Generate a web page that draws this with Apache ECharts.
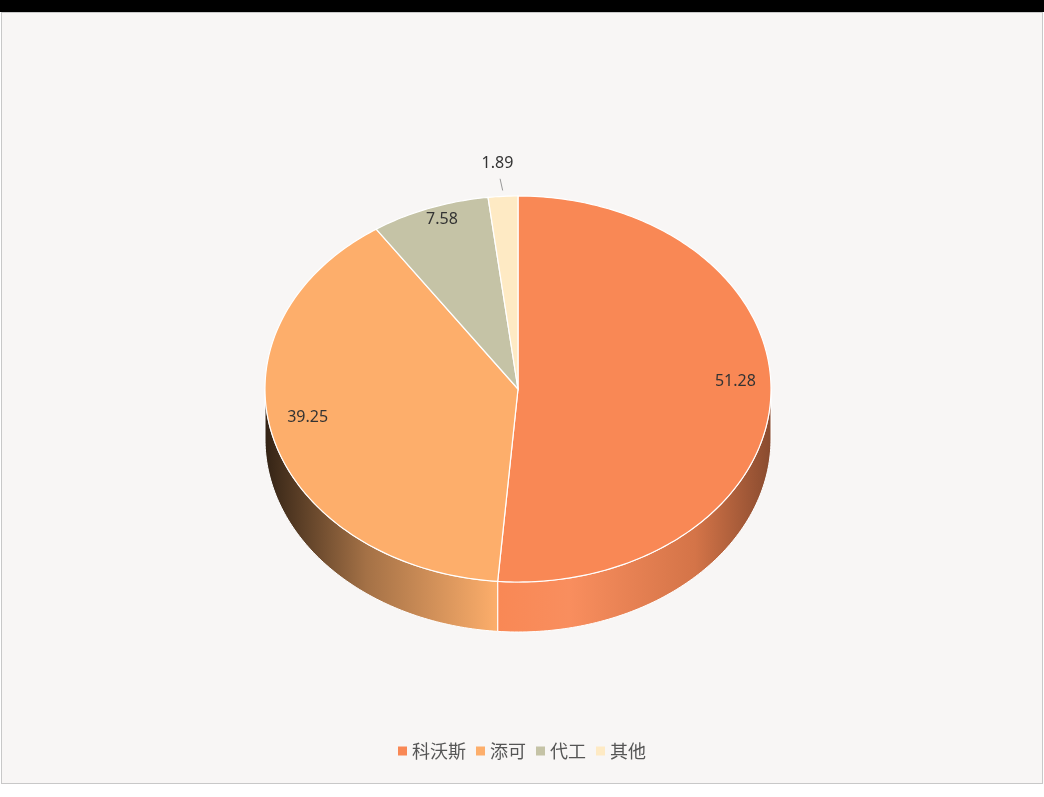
<!DOCTYPE html>
<html>
<head>
<meta charset="utf-8">
<script src="https://cdn.jsdelivr.net/npm/echarts@6/dist/echarts.min.js"></script>
<style>
html,body{margin:0;padding:0;background:#fff;}
#bar{position:absolute;left:0;top:0;width:1044px;height:12px;background:#000;}
#main{position:absolute;left:1px;top:12px;width:1040px;height:770px;background:#f8f6f5;border:1px solid #c8c8c8;}
</style>
</head>
<body>
<div id="bar"></div>
<div id="main"></div>
<script>
var names = ['科沃斯', '添可', '代工', '其他'];
var values = [51.28, 39.25, 7.58, 1.89];
var colors = ['#f98855', '#fdae6b', '#c5c3a6', '#feeac4'];

var chart = echarts.init(document.getElementById('main'));
var total = values.reduce(function (a, b) { return a + b; }, 0);
var starts = [];
var acc = 0;
for (var i = 0; i < values.length; i++) { starts.push(acc); acc += values[i]; }

// ellipse geometry (pixels inside the chart box)
var cx = 516, cy = 376, rx = 253, ry = 193, depth = 50;

function pt(theta, k, dy) {
    return [cx + rx * k * Math.sin(theta), cy - ry * k * Math.cos(theta) + (dy || 0)];
}
function shade(hex, f) {
    var c = echarts.color.parse(hex);
    return 'rgb(' + [0, 1, 2].map(function (j) {
        var v = f < 1 ? c[j] * f : c[j] + (255 - c[j]) * (f - 1);
        return Math.round(v);
    }).join(',') + ')';
}

function renderItem(params, api) {
    var idx = params.dataIndex;
    var v = api.value(0);
    var a0 = starts[idx] / total * Math.PI * 2;
    var a1 = a0 + v / total * Math.PI * 2;
    var children = [];
    var steps = Math.max(4, Math.ceil((a1 - a0) * 60));
    // side wall (front half only)
    var s0 = Math.max(a0, Math.PI / 2), s1 = Math.min(a1, Math.PI * 1.5);
    if (s1 > s0) {
        var top = [], bot = [];
        var n = Math.max(4, Math.ceil((s1 - s0) * 60));
        for (var j = 0; j <= n; j++) {
            var t = s0 + (s1 - s0) * j / n;
            top.push(pt(t, 1));
            bot.push(pt(t, 1, depth));
        }
        var base = colors[idx];
        children.push({
            type: 'polygon',
            shape: { points: top.concat(bot.reverse()) },
            style: {
                fill: new echarts.graphic.LinearGradient(cx - rx, 0, cx + rx, 0, [
                    { offset: 0, color: shade(base, 0.2) },
                    { offset: 0.2, color: shade(base, 0.65) },
                    { offset: 0.46, color: shade(base, 1.0) },
                    { offset: 0.6, color: shade(base, 1.05) },
                    { offset: 0.85, color: shade(base, 0.85) },
                    { offset: 1, color: shade(base, 0.55) }
                ], true),
                stroke: '#fff', lineWidth: 1
            },
            z2: 1
        });
    }
    var pts = [[cx, cy]];
    for (var j = 0; j <= steps; j++) pts.push(pt(a0 + (a1 - a0) * j / steps, 1));
    children.push({
        type: 'polygon',
        shape: { points: pts },
        style: { fill: colors[idx], stroke: '#fff', lineWidth: 1.2 },
        z2: 2
    });
    var mid = (a0 + a1) / 2;
    var txt = { fill: '#333', fontSize: 16, fontFamily: 'Noto Sans', align: 'center', verticalAlign: 'middle', text: String(v) };
    if (v / total < 0.04) {
        var p1 = pt(mid, 1.02, 0), p2 = pt(mid, 1.06, -6);
        children.push({ type: 'line', shape: { x1: p1[0], y1: p1[1] - 2, x2: p2[0] - 2, y2: p2[1] }, style: { stroke: '#999', lineWidth: 1 }, z2: 3 });
        var lp = pt(mid, 1.1, -14);
        children.push({ type: 'text', x: lp[0] - 4, y: lp[1], style: txt, z2: 4 });
    } else {
        var lp = pt(mid, 0.86, -14);
        children.push({ type: 'text', x: lp[0], y: lp[1], style: txt, z2: 4 });
    }
    return { type: 'group', children: children };
}

var option = {
    backgroundColor: '#f8f6f5',
    color: colors,
    legend: {
        bottom: 18,
        left: 'center',
        itemWidth: 9,
        itemHeight: 9,
        itemGap: 10,
        icon: 'rect',
        textStyle: { fontSize: 18, color: '#555', fontFamily: 'Noto Sans CJK SC' },
        data: names
    },
    series: [
        {
            type: 'pie',
            radius: [0, 0],
            center: [-100, -100],
            silent: true,
            label: { show: false },
            data: names.map(function (n, i) { return { name: n, value: values[i] }; })
        },
        {
            type: 'custom',
            coordinateSystem: 'none',
            renderItem: renderItem,
            data: values.map(function (v, i) { return { name: names[i], value: [v] }; })
        }
    ]
};
chart.setOption(option);
window.onresize = chart.resize;
</script>
</body>
</html>
